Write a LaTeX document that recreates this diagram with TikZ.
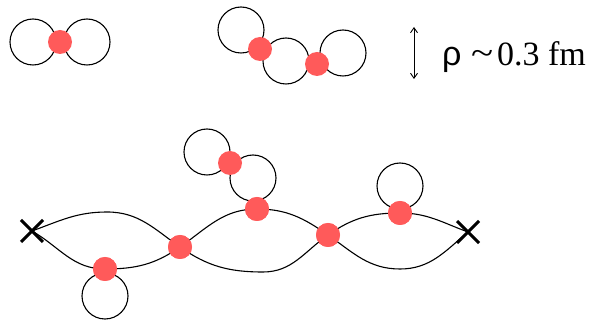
\documentclass[tikz,border=0pt]{standalone}
\usepackage{fontspec}
\setmainfont{Liberation Serif}
\newfontfamily\rhofont{Liberation Sans}
\usetikzlibrary{arrows.meta,calc}
\definecolor{dotred}{RGB}{255,90,90}
\tikzset{
  loopc/.style={draw=black, line width=1.1pt, circle, minimum size=46pt, inner sep=0pt},
  quark/.style={fill=dotred, circle, minimum size=24pt, inner sep=0pt},
  strand/.style={draw=black, line width=1.1pt},
  endx/.style={line width=3pt}
}
\begin{document}
\begin{tikzpicture}[x=1pt,y=-1pt]
\useasboundingbox (0,0) rectangle (595,320);
% top-left
\node[loopc] (c1) at (33,42) {};
\node[loopc] (c2) at (87,42) {};
\node[quark] (q1) at (60,42) {};
% top-middle
\node[loopc] (c3) at (241,30) {};
\node[loopc] (c4) at (286,61) {};
\node[loopc] (c5) at (343,53) {};
\node[quark] (q2) at (260,49) {};
\node[quark] (q3) at (317,64) {};
% scale arrow and label
\coordinate (at) at (414,27);
\coordinate (ab) at (414,79);
\draw[line width=0.9pt, {Straight Barb[length=5pt,width=7pt]}-{Straight Barb[length=5pt,width=7pt]}] (at) -- (ab);
\node[anchor=base west, inner sep=0pt, font=\fontsize{34}{36}\selectfont] (lab) at (442,66)
  {\makebox[29pt][l]{\rhofont ρ}\makebox[26pt][l]{\raisebox{1.5pt}{\scalebox{1.2}[1]{\char"7E}}}0.3 fm};
% bottom
\coordinate (xl) at (32,231);
\coordinate (xr) at (468,232);
\coordinate (t1) at (107,212);
\coordinate (b1) at (263,272);
\coordinate (b2) at (400,269);
\node[loopc] (c6) at (105,296) {};
\node[loopc] (c7) at (207,152) {};
\node[loopc] (c8) at (253,178) {};
\node[loopc] (c9) at (400,186) {};
\node[quark] (p1) at (105,269) {};
\node[quark] (p2) at (180,247) {};
\node[quark] (p3) at (257,209) {};
\node[quark] (p4) at (328,235) {};
\node[quark] (p5) at (400,213) {};
\node[quark] (p6) at (230,163) {};
\draw[strand] (xl) to[out=20,in=180] (t1) to[out=0,in=145] (p2.center) to[out=-35,in=180] (b1) to[out=0,in=215] (p4.center) to[out=35,in=180] (p5.center) to[out=0,in=160] (xr);
\draw[strand] (xl) to[out=-30,in=180] (p1.center) to[out=0,in=215] (p2.center) to[out=35,in=180] (p3.center) to[out=0,in=145] (p4.center) to[out=-35,in=180] (b2) to[out=0,in=220] (xr);
% redraw dots over strands
\foreach \p in {p1,p2,p3,p4,p5}{\fill[dotred] (\p) circle (12pt);}
\draw[endx] ($(xl)+(-11,-11)$) -- ($(xl)+(11,11)$) ($(xl)+(-11,11)$) -- ($(xl)+(11,-11)$);
\draw[endx] ($(xr)+(-11,-11)$) -- ($(xr)+(11,11)$) ($(xr)+(-11,11)$) -- ($(xr)+(11,-11)$);
\end{tikzpicture}
\end{document}
